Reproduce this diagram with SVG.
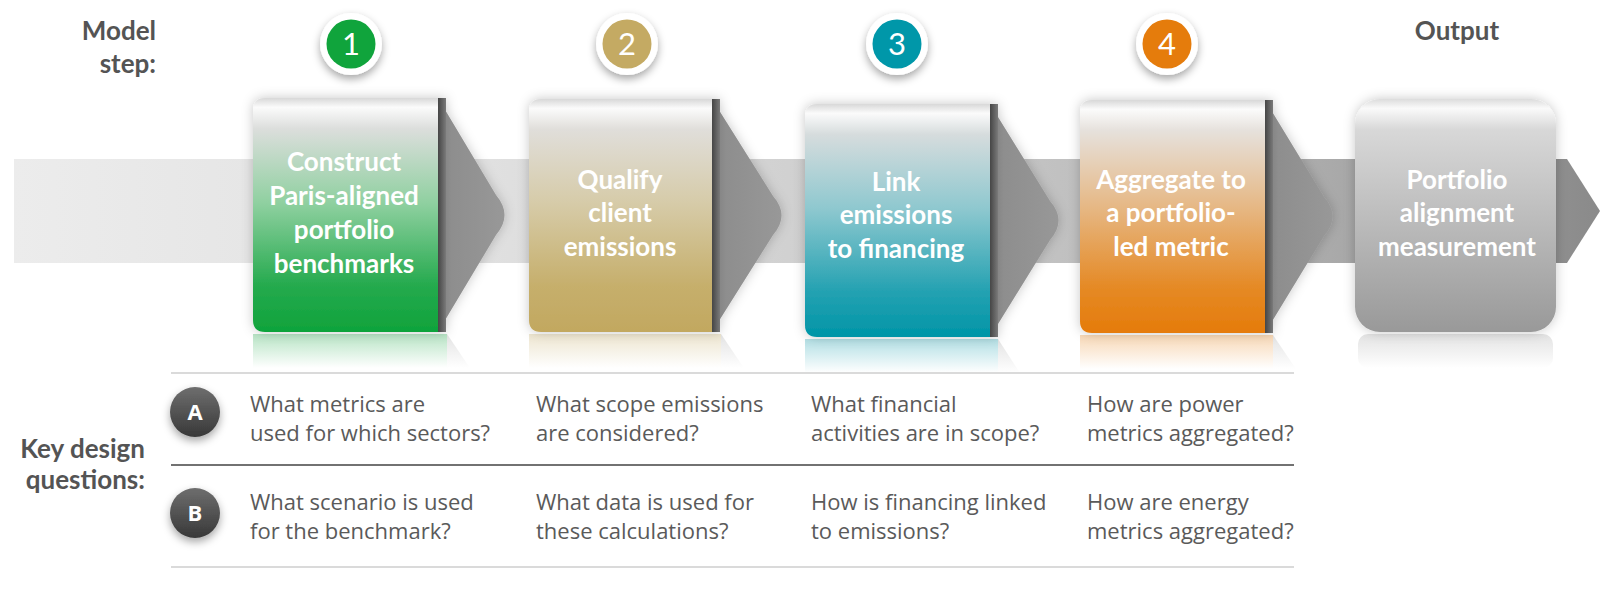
<svg xmlns="http://www.w3.org/2000/svg" width="1600" height="603" viewBox="0 0 1600 603">
<style>
.lbl{font-family:Lato,"Open Sans","Liberation Sans",sans-serif;font-weight:700;font-size:26px;fill:#545454}
.bt{font-family:Lato,"Open Sans","Liberation Sans",sans-serif;font-weight:700;font-size:26px;fill:#ffffff;text-anchor:middle}
.q{font-family:"Open Sans","Liberation Sans",sans-serif;font-size:22px;fill:#5a5a5a}
.num{font-family:Lato,"Open Sans","Liberation Sans",sans-serif;font-size:31px;fill:#ffffff;text-anchor:middle}
.let{font-family:"Open Sans","Liberation Sans",sans-serif;font-weight:700;font-size:22px;fill:#ffffff;text-anchor:middle}
.strip{fill:url(#gStrip)}
.arr{fill:url(#gArr)}
.line-l{stroke:#dadada;stroke-width:2}
.line-d{stroke:#727272;stroke-width:2}
</style>
<defs>
<linearGradient id="gBand" x1="0" y1="0" x2="1" y2="0">
<stop offset="0" stop-color="#ececec"/><stop offset="0.3" stop-color="#e0e0e0"/><stop offset="0.5" stop-color="#d0d0d0"/><stop offset="0.68" stop-color="#bfbfbf"/><stop offset="0.83" stop-color="#aaaaaa"/><stop offset="1" stop-color="#8a8a8a"/>
</linearGradient>
<linearGradient id="gStrip" x1="0" y1="0" x2="1" y2="0"><stop offset="0" stop-color="#454545"/><stop offset="1" stop-color="#7a7a7a"/></linearGradient>
<linearGradient id="gArr" x1="0" y1="0" x2="1" y2="0"><stop offset="0" stop-color="#7c7c7c"/><stop offset="0.2" stop-color="#8e8e8e"/><stop offset="1" stop-color="#989898"/></linearGradient>
<linearGradient id="g1" x1="0" y1="0" x2="0" y2="1"><stop offset="0" stop-color="#d8d8d8"/><stop offset="0.04" stop-color="#fbfbfb"/><stop offset="0.13" stop-color="#dcdedc"/><stop offset="0.45" stop-color="#8fd0a0"/><stop offset="0.8" stop-color="#25aa4e"/><stop offset="1" stop-color="#0fa33b"/></linearGradient>
<linearGradient id="g2" x1="0" y1="0" x2="0" y2="1"><stop offset="0" stop-color="#d8d8d8"/><stop offset="0.04" stop-color="#fbfbfb"/><stop offset="0.13" stop-color="#e0deda"/><stop offset="0.45" stop-color="#d6cba8"/><stop offset="0.8" stop-color="#c6af6c"/><stop offset="1" stop-color="#c2a860"/></linearGradient>
<linearGradient id="g3" x1="0" y1="0" x2="0" y2="1"><stop offset="0" stop-color="#d8d8d8"/><stop offset="0.04" stop-color="#fbfbfb"/><stop offset="0.13" stop-color="#d6dcdd"/><stop offset="0.45" stop-color="#8ec8cf"/><stop offset="0.8" stop-color="#25a2b2"/><stop offset="1" stop-color="#0095a7"/></linearGradient>
<linearGradient id="g4" x1="0" y1="0" x2="0" y2="1"><stop offset="0" stop-color="#d8d8d8"/><stop offset="0.04" stop-color="#fbfbfb"/><stop offset="0.13" stop-color="#e6e1dc"/><stop offset="0.45" stop-color="#e6b987"/><stop offset="0.8" stop-color="#e58a26"/><stop offset="1" stop-color="#e57b0a"/></linearGradient>
<linearGradient id="g5" x1="0" y1="0" x2="0" y2="1"><stop offset="0" stop-color="#dcdcdc"/><stop offset="0.04" stop-color="#fafafa"/><stop offset="0.13" stop-color="#d8d8d8"/><stop offset="0.5" stop-color="#bdbdbd"/><stop offset="1" stop-color="#999999"/></linearGradient>
<linearGradient id="gCirc" x1="0" y1="0" x2="0" y2="1"><stop offset="0" stop-color="#6e6e6e"/><stop offset="1" stop-color="#383838"/></linearGradient>
<linearGradient id="r1" x1="0" y1="0" x2="0" y2="1"><stop offset="0" stop-color="#0fa33b" stop-opacity="0.3"/><stop offset="1" stop-color="#0fa33b" stop-opacity="0"/></linearGradient>
<linearGradient id="r2" x1="0" y1="0" x2="0" y2="1"><stop offset="0" stop-color="#c2a860" stop-opacity="0.3"/><stop offset="1" stop-color="#c2a860" stop-opacity="0"/></linearGradient>
<linearGradient id="r3" x1="0" y1="0" x2="0" y2="1"><stop offset="0" stop-color="#0095a7" stop-opacity="0.3"/><stop offset="1" stop-color="#0095a7" stop-opacity="0"/></linearGradient>
<linearGradient id="r4" x1="0" y1="0" x2="0" y2="1"><stop offset="0" stop-color="#e57b0a" stop-opacity="0.3"/><stop offset="1" stop-color="#e57b0a" stop-opacity="0"/></linearGradient>
<linearGradient id="r5" x1="0" y1="0" x2="0" y2="1"><stop offset="0" stop-color="#999999" stop-opacity="0.28"/><stop offset="1" stop-color="#999999" stop-opacity="0"/></linearGradient>
<linearGradient id="rg" x1="0" y1="0" x2="0" y2="1"><stop offset="0" stop-color="#808080" stop-opacity="0.22"/><stop offset="1" stop-color="#808080" stop-opacity="0"/></linearGradient>
<filter id="glow" x="-20%" y="-20%" width="140%" height="140%"><feDropShadow dx="0" dy="0" stdDeviation="6" flood-color="#000" flood-opacity="0.22"/></filter>
<filter id="csh" x="-40%" y="-40%" width="180%" height="180%"><feDropShadow dx="0" dy="4" stdDeviation="4" flood-color="#000" flood-opacity="0.35"/></filter>
</defs>
<rect width="1600" height="603" fill="#ffffff"/>

<g id="labels">
<text class="lbl" x="156" y="40" text-anchor="end">Model</text>
<text class="lbl" x="156" y="73" text-anchor="end">step:</text>
<text class="lbl" x="145" y="222" text-anchor="end">Activity:</text>
<text class="lbl" x="145" y="458" text-anchor="end">Key design</text>
<text class="lbl" x="145" y="489" text-anchor="end">questions:</text>
<text class="lbl" x="1457" y="40" text-anchor="middle">Output</text>
</g>

<g id="connectors">
<path id="band" d="M14,159 H1567 L1600,211 L1567,263 H14 Z" fill="url(#gBand)"/>
</g>

<g id="step1">
<rect x="253" y="334" width="194" height="34" fill="url(#r1)"/>
<path d="M447,334 L470,368 L447,368 Z" fill="url(#rg)"/>
<g filter="url(#glow)">
<path class="arr" d="M438,98 L496,195 Q513,215 496,235 L438,332 Z"/>
<path d="M438,98 V332 H265 Q253,332 253,320 V110 Q253,98 265,98 Z" fill="url(#g1)"/>
<rect class="strip" x="438" y="98" width="8" height="234"/>
</g>
<text class="bt" x="344" y="171">Construct</text>
<text class="bt" x="344" y="205">Paris-aligned</text>
<text class="bt" x="344" y="239">portfolio</text>
<text class="bt" x="344" y="273">benchmarks</text>
<circle cx="351" cy="44" r="31" fill="#ffffff" filter="url(#csh)"/>
<circle cx="351" cy="44" r="24.5" fill="#10a43c"/>
<text class="num" x="351" y="55">1</text>
</g>

<g id="step2">
<rect x="529" y="334" width="192" height="34" fill="url(#r2)"/>
<path d="M721,334 L744,368 L721,368 Z" fill="url(#rg)"/>
<g filter="url(#glow)">
<path class="arr" d="M712,99 L773,196 Q790,215.5 773,235 L712,332 Z"/>
<path d="M712,99 V332 H541 Q529,332 529,320 V111 Q529,99 541,99 Z" fill="url(#g2)"/>
<rect class="strip" x="712" y="99" width="8" height="233"/>
</g>
<text class="bt" x="620" y="189">Qualify</text>
<text class="bt" x="620" y="222">client</text>
<text class="bt" x="620" y="256">emissions</text>
<circle cx="627" cy="44" r="31" fill="#ffffff" filter="url(#csh)"/>
<circle cx="627" cy="44" r="24.5" fill="#c4aa63"/>
<text class="num" x="627" y="55">2</text>
</g>

<g id="step3">
<rect x="805" y="339" width="193" height="34" fill="url(#r3)"/>
<path d="M998,339 L1020,373 L998,373 Z" fill="url(#rg)"/>
<g filter="url(#glow)">
<path class="arr" d="M990,104 L1050,201 Q1067,220.5 1050,240 L990,337 Z"/>
<path d="M990,104 V337 H817 Q805,337 805,325 V116 Q805,104 817,104 Z" fill="url(#g3)"/>
<rect class="strip" x="990" y="104" width="8" height="233"/>
</g>
<text class="bt" x="896" y="191">Link</text>
<text class="bt" x="896" y="224">emissions</text>
<text class="bt" x="896" y="258">to financing</text>
<circle cx="897" cy="44" r="31" fill="#ffffff" filter="url(#csh)"/>
<circle cx="897" cy="44" r="24.5" fill="#0097a9"/>
<text class="num" x="897" y="55">3</text>
</g>

<g id="step4">
<rect x="1080" y="335" width="193" height="34" fill="url(#r4)"/>
<path d="M1273,335 L1296,369 L1273,369 Z" fill="url(#rg)"/>
<g filter="url(#glow)">
<path class="arr" d="M1265,100 L1324,197 Q1341,216.5 1324,236 L1265,333 Z"/>
<path d="M1265,100 V333 H1092 Q1080,333 1080,321 V112 Q1080,100 1092,100 Z" fill="url(#g4)"/>
<rect class="strip" x="1265" y="100" width="8" height="233"/>
</g>
<text class="bt" x="1171" y="189">Aggregate to</text>
<text class="bt" x="1171" y="222">a portfolio-</text>
<text class="bt" x="1171" y="256">led metric</text>
<circle cx="1167" cy="44" r="31" fill="#ffffff" filter="url(#csh)"/>
<circle cx="1167" cy="44" r="24.5" fill="#e57c0c"/>
<text class="num" x="1167" y="55">4</text>
</g>

<g id="output">
<rect x="1358" y="334" width="195" height="34" rx="10" fill="url(#r5)"/>
<rect x="1355" y="99" width="201" height="233" rx="25" fill="url(#g5)" filter="url(#glow)"/>
<text class="bt" x="1457" y="189">Portfolio</text>
<text class="bt" x="1457" y="222">alignment</text>
<text class="bt" x="1457" y="256">measurement</text>
</g>

<g id="questions">
<line class="line-l" x1="171" y1="373" x2="1294" y2="373"/>
<line class="line-d" x1="171" y1="465" x2="1294" y2="465"/>
<line class="line-l" x1="171" y1="567" x2="1294" y2="567"/>
<g id="qA">
<circle cx="195" cy="412" r="25" fill="url(#gCirc)" filter="url(#csh)"/>
<text class="let" x="195" y="420">A</text>
<text class="q" x="250" y="412">What metrics are</text>
<text class="q" x="250" y="441">used for which sectors?</text>
<text class="q" x="536" y="412">What scope emissions</text>
<text class="q" x="536" y="441">are considered?</text>
<text class="q" x="811" y="412">What financial</text>
<text class="q" x="811" y="441">activities are in scope?</text>
<text class="q" x="1087" y="412">How are power</text>
<text class="q" x="1087" y="441">metrics aggregated?</text>
</g>
<g id="qB">
<circle cx="195" cy="513" r="25" fill="url(#gCirc)" filter="url(#csh)"/>
<text class="let" x="195" y="521">B</text>
<text class="q" x="250" y="510">What scenario is used</text>
<text class="q" x="250" y="539">for the benchmark?</text>
<text class="q" x="536" y="510">What data is used for</text>
<text class="q" x="536" y="539">these calculations?</text>
<text class="q" x="811" y="510">How is financing linked</text>
<text class="q" x="811" y="539">to emissions?</text>
<text class="q" x="1087" y="510">How are energy</text>
<text class="q" x="1087" y="539">metrics aggregated?</text>
</g>
</g>
</svg>
